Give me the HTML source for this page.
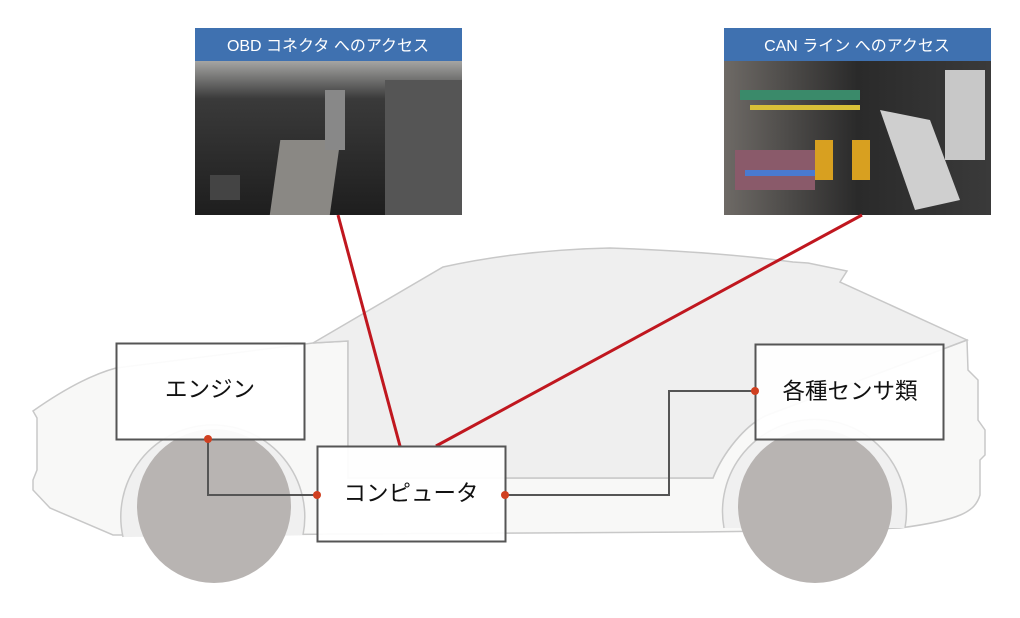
<!DOCTYPE html>
<html><head><meta charset="utf-8"><style>
html,body{margin:0;padding:0;background:#fff;}
svg{display:block;}
text{font-family:"Liberation Sans","Noto Sans CJK JP",sans-serif;}
</style></head><body>
<svg width="1020" height="618" viewBox="0 0 1020 618" xmlns="http://www.w3.org/2000/svg">
<defs>
<linearGradient id="g1" x1="0" y1="0" x2="0" y2="1">
<stop offset="0" stop-color="#a8a8a6"/><stop offset="0.25" stop-color="#3a3a3a"/><stop offset="1" stop-color="#1e1e1e"/></linearGradient>
<linearGradient id="g2" x1="0" y1="0" x2="1" y2="0">
<stop offset="0" stop-color="#6e6a66"/><stop offset="0.5" stop-color="#2a2a2a"/><stop offset="1" stop-color="#3a3a3a"/></linearGradient>
</defs>
<path d="M33,411 C60,392 90,375 116,368 L313,343 L348,341 L348,478 L713,478 C722,455 745,423 770,414 L967,340 L968,370 L978,380 L978,420 L985,430 L985,455 L980,460 L980,495 C975,512 960,520 900,528 L840,530 L700,532 L180,535 L113,535 L50,508 L33,490 L33,480 L37,470 L37,418 Z" fill="#f8f8f7" stroke="#c8c8c8" stroke-width="1.5"/>
<path d="M313,343 L443,267 Q520,250 610,248 Q720,252 793,262 L808,263 L847,271 L840,282 L967,340 L770,414 C745,423 722,455 713,478 L348,478 L348,341 Z" fill="#efefef" stroke="#c8c8c8" stroke-width="1.5"/>
<path d="M123,537 A92,92 0 1 1 303,535" fill="#f0f0f0" stroke="#c8c8c8" stroke-width="1.5"/>
<path d="M724,528 A92,92 0 1 1 905,528" fill="#f0f0f0" stroke="#c8c8c8" stroke-width="1.5"/>
<circle cx="214" cy="506" r="77" fill="#b8b4b2"/>
<circle cx="815" cy="506" r="77" fill="#b8b4b2"/>
<rect x="195" y="60" width="267" height="155" fill="url(#g1)"/>
<rect x="300" y="140" width="60" height="75" fill="#8a8884" transform="skewX(-8)"/>
<rect x="385" y="80" width="77" height="135" fill="#555"/>
<rect x="325" y="90" width="20" height="60" fill="#888"/>
<rect x="210" y="175" width="30" height="25" fill="#444"/>
<rect x="195" y="28" width="267" height="33" fill="#3f71b0"/>
<text x="328" y="51" font-size="16" fill="#fff" text-anchor="middle">OBD コネクタ へのアクセス</text>
<rect x="724" y="60" width="267" height="155" fill="url(#g2)"/>
<rect x="740" y="90" width="120" height="10" fill="#3a8a6a"/>
<rect x="750" y="105" width="110" height="5" fill="#d8c038"/>
<rect x="735" y="150" width="80" height="40" fill="#8a5a6a"/>
<rect x="745" y="170" width="70" height="6" fill="#4a7ad0"/>
<rect x="815" y="140" width="18" height="40" fill="#d8a020"/>
<rect x="852" y="140" width="18" height="40" fill="#d8a020"/>
<path d="M880,110 L930,120 L960,200 L915,210 Z" fill="#cfcfcf"/>
<rect x="945" y="70" width="40" height="90" fill="#c8c8c8"/>
<rect x="724" y="28" width="267" height="33" fill="#3f71b0"/>
<text x="857" y="51" font-size="16" fill="#fff" text-anchor="middle">CAN ライン へのアクセス</text>
<line x1="338" y1="215" x2="400" y2="446" stroke="#c0171f" stroke-width="3"/>
<line x1="862" y1="215" x2="436" y2="446" stroke="#c0171f" stroke-width="3"/>
<rect x="116.5" y="343.5" width="188" height="96" fill="#fff" fill-opacity="0.93" stroke="#555" stroke-width="2"/>
<text x="210" y="397" font-size="22.5" fill="#111" text-anchor="middle">エンジン</text>
<rect x="317.5" y="446.5" width="188" height="95" fill="#fff" fill-opacity="0.93" stroke="#555" stroke-width="2"/>
<text x="411" y="501" font-size="22.5" fill="#111" text-anchor="middle">コンピュータ</text>
<rect x="755.5" y="344.5" width="188" height="95" fill="#fff" fill-opacity="0.93" stroke="#555" stroke-width="2"/>
<text x="850" y="399" font-size="22.5" fill="#111" text-anchor="middle">各種センサ類</text>
<polyline points="208,439 208,495 317,495" fill="none" stroke="#555" stroke-width="2"/>
<polyline points="505,495 669,495 669,391 755,391" fill="none" stroke="#555" stroke-width="2"/>
<circle cx="208" cy="439" r="4" fill="#d04020"/>
<circle cx="317" cy="495" r="4" fill="#d04020"/>
<circle cx="505" cy="495" r="4" fill="#d04020"/>
<circle cx="755" cy="391" r="4" fill="#d04020"/>
</svg>
</body></html>
